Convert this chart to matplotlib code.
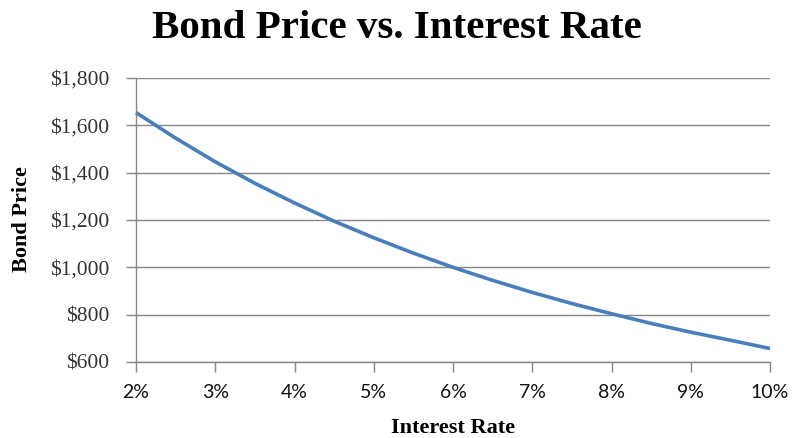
import numpy as np
import matplotlib
matplotlib.use('Agg')
from matplotlib import pyplot as plt
from matplotlib.ticker import FuncFormatter

# kamatne stope (%) i cijene obveznice ocitane sa slike
rates = [2.0, 2.5, 3.0, 3.5, 4.0, 4.5, 5.0, 5.5, 6.0, 6.5, 7.0, 7.5, 8.0, 8.5, 9.0, 9.5, 10.0]
prices = [1654, 1546, 1446, 1355, 1272, 1195, 1125, 1060, 1000, 945, 894, 847, 804, 763, 726, 692, 657]

y_ticks = [600, 800, 1000, 1200, 1400, 1600, 1800]
x_ticks = [2, 3, 4, 5, 6, 7, 8, 9, 10]

serif = ['Liberation Serif', 'DejaVu Serif']
sans = ['Lato', 'DejaVu Sans']
grey = '#868686'

fig = plt.figure(figsize=(7.93, 4.38), dpi=100)
ax = fig.add_axes([136/793, 1 - 362/438, (770-136)/793, (362-78)/438])

ax.plot(rates, prices, color='#4a7ebb', linewidth=2.6, solid_capstyle='butt', clip_on=False)

ax.set_xlim(2, 10)
ax.set_ylim(600, 1800)
ax.set_xticks(x_ticks)
ax.set_yticks(y_ticks)
ax.xaxis.set_major_formatter(FuncFormatter(lambda v, p: f'{v:.0f}%'))
ax.yaxis.set_major_formatter(FuncFormatter(lambda v, p: f'${v:,.0f}'))

ax.grid(axis='y', color=grey, linewidth=1.0)
ax.set_axisbelow(True)
for s in ['top', 'right']:
    ax.spines[s].set_visible(False)
for s in ['left', 'bottom']:
    ax.spines[s].set_color(grey)
    ax.spines[s].set_linewidth(1.0)

ax.tick_params(axis='both', direction='out', length=7, width=1.0, color=grey)
ax.tick_params(axis='y', pad=12)
ax.tick_params(axis='x', pad=9)
for t in ax.get_yticklabels():
    t.set_family(serif)
    t.set_fontsize(15.5)
    t.set_color('#333333')
for t in ax.get_xticklabels():
    t.set_family(sans)
    t.set_fontsize(14)
    t.set_color('#111111')

fig.text(0.5, 1 - 28/438, 'Bond Price vs. Interest Rate', ha='center', va='center',
         fontsize=29.5, fontweight='bold', family=serif)
fig.text(453/793, 1 - 428/438, 'Interest Rate', ha='center', va='center',
         fontsize=16, fontweight='bold', family=serif)
fig.text(22/793, 1 - 219/438, 'Bond Price', ha='center', va='center', rotation=90,
         fontsize=16, fontweight='bold', family=serif)

plt.savefig('out.png', dpi=100)
